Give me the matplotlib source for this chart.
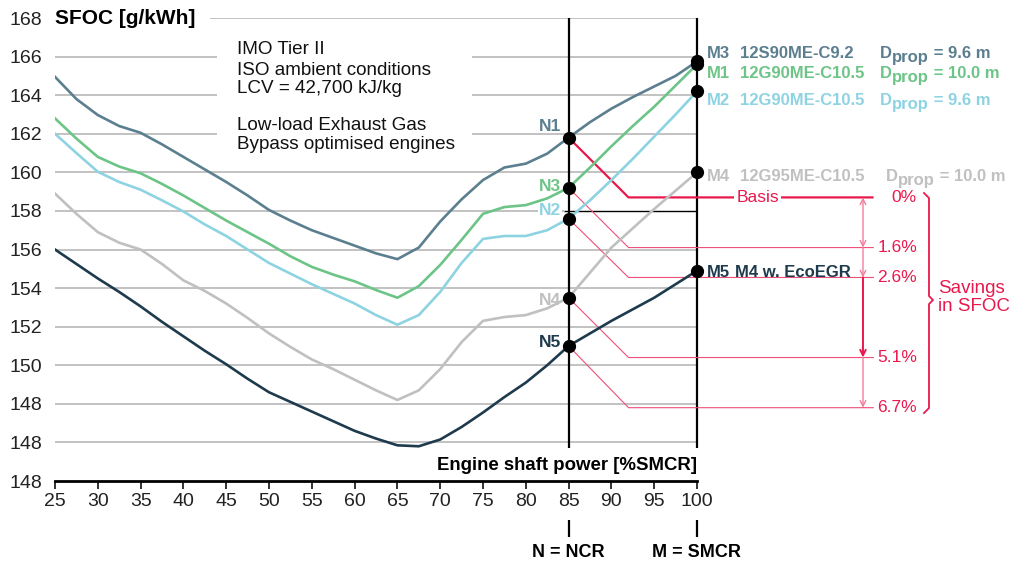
import matplotlib.pyplot as plt

plt.rcParams['font.family'] = ['Liberation Sans', 'DejaVu Sans']

# engine load [%SMCR]
load = [25, 27.5, 30, 32.5, 35, 37.5, 40, 42.5, 45, 47.5, 50, 52.5, 55, 57.5, 60, 62.5,
        65, 67.5, 70, 72.5, 75, 77.5, 80, 82.5, 85, 87.5, 90, 92.5, 95, 97.5, 100]

# SFOC curves [g/kWh]
m3 = [164.95, 163.8, 162.97, 162.4, 162.05, 161.45, 160.8, 160.15, 159.5, 158.8, 158.05, 157.5,
      157.0, 156.6, 156.2, 155.8, 155.5, 156.1, 157.45, 158.6, 159.6, 160.25, 160.45, 160.97,
      161.8, 162.6, 163.3, 163.9, 164.45, 165.0, 165.75]
m1 = [162.8, 161.75, 160.8, 160.3, 159.95, 159.4, 158.8, 158.15, 157.5, 156.9, 156.3, 155.65,
      155.1, 154.7, 154.35, 153.9, 153.5, 154.1, 155.2, 156.5, 157.85, 158.2, 158.3, 158.65,
      159.2, 160.25, 161.35, 162.4, 163.4, 164.5, 165.6]
m2 = [162.0, 161.0, 160.03, 159.5, 159.1, 158.55, 157.97, 157.3, 156.7, 156.0, 155.3, 154.75,
      154.2, 153.7, 153.2, 152.6, 152.1, 152.6, 153.8, 155.3, 156.55, 156.7, 156.7, 157.0,
      157.6, 158.55, 159.6, 160.7, 161.85, 163.0, 164.2]
m4 = [158.9, 157.85, 156.9, 156.35, 156.0, 155.25, 154.4, 153.85, 153.2, 152.45, 151.65, 150.95,
      150.3, 149.8, 149.25, 148.7, 148.2, 148.7, 149.8, 151.2, 152.3, 152.5, 152.6, 152.95,
      153.5, 154.8, 156.1, 157.1, 158.1, 159.05, 160.0]
m5 = [156.0, 155.25, 154.5, 153.8, 153.05, 152.25, 151.5, 150.75, 150.05, 149.3, 148.6, 148.1,
      147.6, 147.1, 146.6, 146.2, 145.85, 145.8, 146.15, 146.8, 147.55, 148.35, 149.1, 150.0,
      151.0, 151.65, 152.3, 152.9, 153.5, 154.2, 154.9]

curves = [m3, m1, m2, m4, m5]
colors = ['#5b7f8f', '#6dc487', '#8ed3e2', '#c0c0c0', '#1e3a4d']

n_names = ['N1', 'N3', 'N2', 'N4', 'N5']
n_vals = [161.8, 159.2, 157.6, 153.5, 151.0]
n_label_y = [162.4, 159.25, 158.0, 153.35, 151.2]
n_colors = ['#5b7f8f', '#6dc487', '#8ed3e2', '#c0c0c0', '#1e3a4d']

m_vals = [165.75, 165.6, 164.2, 160.0, 154.9]
m_names = ['M3', 'M1', 'M2', 'M4', 'M5']
m_models = ['12S90ME-C9.2', '12G90ME-C10.5', '12G90ME-C10.5', '12G95ME-C10.5', 'M4 w. EcoEGR']
m_label_y = [166.17, 165.13, 163.71, 159.77, 154.82]
d_prop = ['9.6 m', '10.0 m', '9.6 m', '10.0 m', None]

savings = ['0%', '1.6%', '2.6%', '5.1%', '6.7%']
saving_levels = [158.7, 156.1, 154.55, 150.4, 147.8]

y_ticks = [144, 146, 148, 150, 152, 154, 156, 158, 160, 162, 164, 166, 168]
y_labels = ['148', '148', '148', '150', '152', '154', '156', '158', '160', '162', '164', '166', '168']
x_ticks = [25, 30, 35, 40, 45, 50, 55, 60, 65, 70, 75, 80, 85, 90, 95, 100]

red = '#e8194c'
pink = '#ee4f78'

fig = plt.figure(figsize=(10.13, 5.66), dpi=100)
ax = fig.add_axes([55 / 1013, 85 / 566, 958 / 1013, 463 / 566])
ax.set_xlim(25, 25 + 958 / 8.56)
ax.set_ylim(144, 168)

# grid lines, broken behind the text block
for y in y_ticks[1:]:
    if y == 168:
        ax.hlines(y, 43.1, 100, color='#b8b8b8', lw=1.2, zorder=1)
    elif y in (162, 164, 166):
        ax.hlines(y, 25, 43.9, color='#b8b8b8', lw=1.2, zorder=1)
        ax.hlines(y, 73.7, 100, color='#b8b8b8', lw=1.2, zorder=1)
    elif y == 158:
        ax.hlines(y, 25, 84.5, color='#b8b8b8', lw=1.2, zorder=1)
        ax.hlines(y, 84.5, 100, color='black', lw=1.0, zorder=1)
    else:
        ax.hlines(y, 25, 100, color='#b8b8b8', lw=1.2, zorder=1)

ax.vlines([85, 100], 145.7, 168, color='black', lw=1.6, zorder=2)

for vals, c in zip(curves, colors):
    ax.plot(load, vals, color=c, lw=1.9, zorder=3, solid_joinstyle='round')

# savings construction lines
for i, (nv, lev) in enumerate(zip(n_vals, saving_levels)):
    if i == 0:
        ax.plot([85, 92, 120.5], [nv, lev, lev], color=red, lw=1.6, zorder=2.5)
    else:
        ax.plot([85, 92, 120.6], [nv, lev, lev], color=pink, lw=0.8, zorder=2.5)

arrow_x = 119.39
segs = list(zip(saving_levels[:-1], saving_levels[1:]))
for k, (y0, y1) in enumerate(segs):
    ax.annotate('', xy=(arrow_x, y1), xytext=(arrow_x, y0),
                arrowprops=dict(arrowstyle='<->' if k == 0 else '->', color=red if k == 2 else '#f07f9c',
                                lw=1.4 if k == 2 else 1.0, shrinkA=0, shrinkB=0,
                                mutation_scale=10))

ax.text(107.1, saving_levels[0], 'Basis', color=red, fontsize=12.5, ha='center', va='center',
        bbox=dict(facecolor='white', edgecolor='none', pad=1.5), zorder=4)
for s, lev in zip(savings, saving_levels):
    ax.text(125.7, lev, s, color=red, fontsize=12.5, ha='right', va='center', zorder=4)

# brace
bx = [(p - 55) / 8.56 + 25 for p in (924, 929, 929, 933, 929, 929, 924)]
by = [168 - (p - 18) / 19.29 for p in (193, 198, 296, 300, 304, 408, 413)]
ax.plot(bx, by, color=red, lw=1.3, clip_on=False)
ax.text(128.15, 153.5, 'Savings\nin SFOC', color=red, fontsize=13.5, ha='left', va='center',
        linespacing=1.1)

# points
ax.plot([85] * len(n_vals), n_vals, 'o', color='black', ms=8.5, zorder=5)
ax.plot([100] * len(m_vals), m_vals, 'o', color='black', ms=8.5, zorder=5)

for name, ly, c in zip(n_names, n_label_y, n_colors):
    box = dict(facecolor='white', edgecolor='none', pad=0.5) if name == 'N2' else None
    ax.text(84.1, ly, name, color=c, fontsize=12.5, fontweight='bold', ha='right', va='center',
            bbox=box, zorder=4)

for i in range(len(m_names)):
    c = colors[i]
    ly = m_label_y[i]
    ax.text(101.17, ly, m_names[i], color=c, fontsize=12, fontweight='bold', ha='left', va='center')
    ax.text(105.02 if i < 4 else 104.44, ly, m_models[i], color=c, fontsize=12, fontweight='bold',
            ha='left', va='center', zorder=4)
    if d_prop[i]:
        dx = 121.38 if i != 3 else 122.08
        t = ax.text(dx, ly, 'D', color=c, fontsize=12, fontweight='bold', ha='left', va='center')
        t2 = ax.annotate('prop', xy=(1, 0), xycoords=t, xytext=(0.3, -3), textcoords='offset points',
                         color=c, fontsize=12, fontweight='bold', ha='left', va='bottom')
        ax.annotate(' = ' + d_prop[i], xy=(1, 0), xycoords=t2, xytext=(0, 3), textcoords='offset points',
                    color=c, fontsize=12, fontweight='bold', ha='left', va='bottom')

# info text
info_lines = [('IMO Tier II', 166.39), ('ISO ambient conditions', 165.3), ('LCV = 42,700 kJ/kg', 164.32),
              ('Low-load Exhaust Gas', 162.45), ('Bypass optimised engines', 161.42)]
for s, y in info_lines:
    ax.text(46.26, y, s, fontsize=13.6, ha='left', va='center', color='#111111')

ax.text(25, 168, 'SFOC [g/kWh]', fontsize=15, fontweight='bold', ha='left', va='center')
ax.text(100, 144.78, 'Engine shaft power [%SMCR]', fontsize=13.4, fontweight='bold', ha='right', va='center')

# axes styling
for side in ('top', 'right', 'left'):
    ax.spines[side].set_visible(False)
ax.spines['bottom'].set_bounds(25, 100)
ax.spines['bottom'].set_linewidth(2)
ax.set_xticks(x_ticks)
ax.set_xticklabels([str(v) for v in x_ticks])
ax.set_yticks(y_ticks)
ax.set_yticklabels(y_labels)
ax.tick_params(axis='x', direction='out', length=6, width=1.3, labelsize=14, pad=3, colors='#222222')
ax.tick_params(axis='y', length=0, labelsize=14, pad=9.5, colors='#222222')

# NCR / SMCR markers below the axis
ax.vlines([85, 100], 141.1, 141.98, color='black', lw=1.6, clip_on=False)
ax.text(85, 140.27, 'N = NCR', fontsize=13, fontweight='bold', ha='center', va='center')
ax.text(100, 140.27, 'M = SMCR', fontsize=13, fontweight='bold', ha='center', va='center')

fig.savefig('out.png', dpi=100)
